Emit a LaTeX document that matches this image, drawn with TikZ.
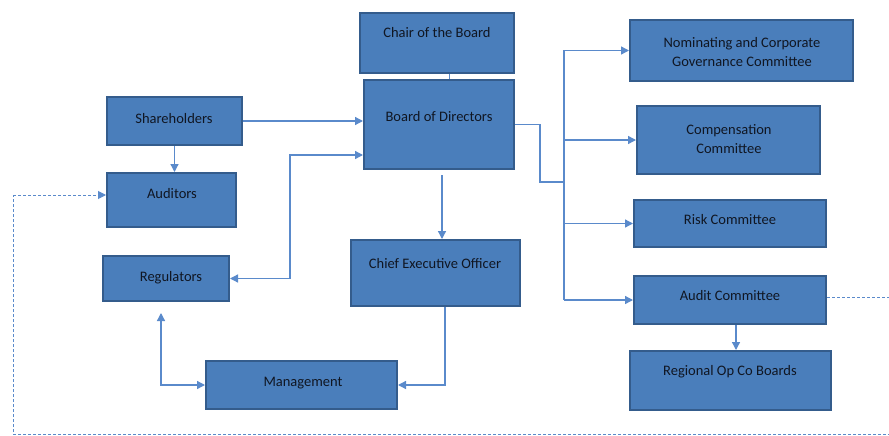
\documentclass[tikz,border=0pt]{standalone}
\usepackage{fontspec}
\setmainfont{Carlito}
\usetikzlibrary{arrows.meta,calc}
\definecolor{boxfill}{HTML}{4A7EBB}
\definecolor{boxedge}{HTML}{345C8C}
\definecolor{wire}{HTML}{5A8ACB}
\definecolor{ink}{HTML}{101622}
\tikzset{
  orgbox/.style={draw=boxedge, fill=boxfill, line width=2pt, rectangle, inner sep=0pt},
  lbl/.style={text=ink, font=\fontsize{14.5}{19.5}\selectfont, align=center,
              text height=10pt, text depth=3pt, inner sep=0pt, yshift=-2pt},
  wireline/.style={draw=wire, line width=1.3pt},
  arr/.style={wireline, -{Triangle[length=8pt,width=8pt]}},
  arrboth/.style={wireline, {Triangle[length=8pt,width=8pt]}-{Triangle[length=8pt,width=8pt]}},
  dashwire/.style={draw=wire, line width=1pt, dash pattern=on 3pt off 2pt},
}
% box: name, left, top, right, bottom (y grows downward)
\newcommand{\orgbox}[5]{%
  \node[orgbox, minimum width={#4-#2}, minimum height={#5-#3}] (#1) at ({(#2+#4)/2},{(#3+#5)/2}) {};}
\begin{document}
\begin{tikzpicture}[x=1pt, y=-1pt]
\useasboundingbox (0,0) rectangle (889,436);
\clip (0,0) rectangle (889,436);
\fill[white] (0,0) rectangle (889,436);

% boxes
\orgbox{chair}{360}{13}{514}{73}
\orgbox{bod}{364}{80}{514}{169}
\orgbox{sh}{107}{97}{242}{145}
\orgbox{aud}{107}{173}{236}{227}
\orgbox{reg}{103}{256}{229}{301}
\orgbox{ceo}{351}{240}{520}{306}
\orgbox{mgmt}{206}{361}{397}{409}
\orgbox{nom}{630}{20}{853}{81}
\orgbox{comp}{637}{106}{820}{174}
\orgbox{risk}{634}{200}{826}{247}
\orgbox{audc}{634}{276}{826}{324}
\orgbox{ropco}{630}{351}{831}{410}

% labels
\node[lbl] (tchair) at (437,32) {Chair of the Board};
\node[lbl] (tbod) at (439,116) {Board of Directors};
\node[lbl] (tsh) at (174,118) {Shareholders};
\node[lbl] (taud) at (172,193) {Auditors};
\node[lbl] (treg) at (171,276) {Regulators};
\node[lbl] (tceo) at (435,263) {Chief Executive Officer};
\node[lbl] (tmgmt) at (303,381) {Management};
\node[lbl, text height=, text depth=] (tnom) at (742,50) {Nominating and Corporate\\Governance Committee};
\node[lbl, text height=, text depth=] (tcomp) at (729,137) {Compensation\\Committee};
\node[lbl] (trisk) at (730,219) {Risk Committee};
\node[lbl] (taudc) at (730,295) {Audit Committee};
\node[lbl] (tropco) at (730,370) {Regional Op Co Boards};

% chair to board
\draw[draw=wire, line width=0.8pt] ([xshift=12]chair.south) -- ([xshift=12]chair.south |- bod.north);

% shareholders
\draw[arr] (sh.east) -- (sh.east -| bod.west);
\draw[arr] (sh.south) -- (sh.south |- aud.north);

% regulators and the board
\coordinate (rb) at ($(bod.west)+(0,30.5)$);
\draw[arrboth] (reg.east) -- ++(60,0) |- (rb);

% board to CEO
\draw[arr] ($(bod.south)+(3,5)$) -- ([xshift=3]bod.south |- ceo.north);

% CEO to management
\draw[arr] ([xshift=9.5]ceo.south) |- (mgmt.east);

% management and regulators
\coordinate (rt) at ($(reg.south)+(-5,11)$);
\draw[arrboth] (rt) |- (mgmt.west);

% board to committees
\coordinate (tx) at (564,182);
\draw[wireline] (bod.east) -- ++(25,0) |- (tx);
\draw[wireline] (nom.west -| tx) -- (audc.west -| tx);
\draw[arr] (nom.west -| tx) -- (nom.west);
\draw[arr] (comp.west -| tx) -- (comp.west);
\draw[arr] (risk.west -| tx) -- (risk.west);
\draw[arr] (audc.west -| tx) -- (audc.west);

% audit committee to regional boards
\draw[arr] ([xshift=6]audc.south) -- ([xshift=6]audc.south |- ropco.north);

% audit committee to auditors
\coordinate (dr) at (900,297);
\coordinate (dbr) at (900,434.5);
\coordinate (dbl) at (13,434.5);
\coordinate (dl) at (13,195);
\draw[dashwire] ([yshift=3]audc.east) -- (dr) -- (dbr) -- (dbl) -- (dl);
\draw[dashwire, -{Triangle[length=8pt,width=8pt]}] (dl) -- (dl -| aud.west);
\end{tikzpicture}
\end{document}
